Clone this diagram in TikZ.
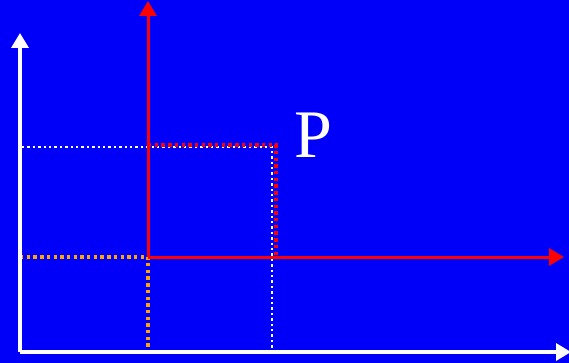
\documentclass[tikz,border=0pt]{standalone}
\usepackage{fontspec}
\setmainfont{Liberation Serif}
\usetikzlibrary{arrows.meta}
\definecolor{bgblue}{RGB}{0,0,250}
\definecolor{dotorange}{RGB}{255,165,0}
\begin{document}
\begin{tikzpicture}[x=1pt,y=-1pt,
  axis/.style={line width=3.4pt,-{Triangle[width=17pt,length=15pt]}},
  wdot/.style={white,line width=2.4pt,dash pattern=on 2.4pt off 3pt},
  rdot/.style={red,line width=3.4pt,dash pattern=on 3.4pt off 3.3pt},
  odot/.style={dotorange,line width=3.4pt,dash pattern=on 3.4pt off 3.3pt}]
\fill[bgblue] (0,0) rectangle (569,363);
\useasboundingbox (0,0) rectangle (569,363);
% coordinates
\coordinate (O) at (20,352);
\coordinate (Otop) at (20,33);
\coordinate (Oright) at (571,352);
\coordinate (Q) at (148,257);
\coordinate (Qtop) at (148,1);
\coordinate (Qright) at (564,257);
\coordinate (yw) at (22,147);
\coordinate (pw) at (272,147);
\coordinate (xw) at (272,352);
\coordinate (pr) at (276,145);
\coordinate (yr) at (148,145);
\coordinate (xr) at (276,257);
\coordinate (yo) at (20,257);
\coordinate (xo) at (148,352);
% dotted projections
\draw[wdot] (yw) -- (pw) -- (xw);
\draw[odot] (yo) -- (Q) -- (xo);
\draw[rdot] (yr) -- (pr) -- (xr);
% axes
\draw[axis,white] (O) -- (Otop);
\draw[axis,white] (O) -- (Oright);
\draw[axis,red,line width=3pt] (Q) -- (Qtop);
\draw[axis,red,line width=3pt] (Q) -- (Qright);
\node[white,font=\fontsize{68}{68}\selectfont,inner sep=0pt] (P) at (313,135) {P};
\end{tikzpicture}
\end{document}
